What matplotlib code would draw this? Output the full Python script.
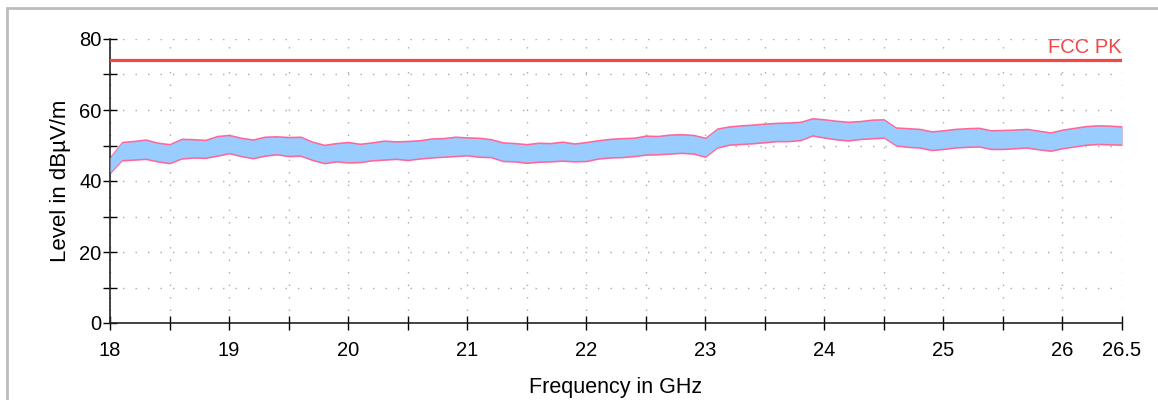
import matplotlib
matplotlib.use("Agg")
import matplotlib.pyplot as plt
from matplotlib.patches import Rectangle

plt.rcParams['font.family'] = ['Liberation Sans', 'DejaVu Sans']

# ── data ──
freq_ghz = [18.0, 18.1, 18.2, 18.3, 18.4, 18.5, 18.6, 18.7, 18.8, 18.9,
            19.0, 19.1, 19.2, 19.3, 19.4, 19.5, 19.6, 19.7, 19.8, 19.9,
            20.0, 20.1, 20.2, 20.3, 20.4, 20.5, 20.6, 20.7, 20.8, 20.9,
            21.0, 21.1, 21.2, 21.3, 21.4, 21.5, 21.6, 21.7, 21.8, 21.9,
            22.0, 22.1, 22.2, 22.3, 22.4, 22.5, 22.6, 22.7, 22.8, 22.9,
            23.0, 23.1, 23.2, 23.3, 23.4, 23.5, 23.6, 23.7, 23.8, 23.9,
            24.0, 24.1, 24.2, 24.3, 24.4, 24.5, 24.6, 24.7, 24.8, 24.9,
            25.0, 25.1, 25.2, 25.3, 25.4, 25.5, 25.6, 25.7, 25.8, 25.9,
            26.0, 26.1, 26.2, 26.3, 26.4, 26.5]
level_hi = [47.0, 51.2, 51.5, 51.9, 51.0, 50.6, 52.1, 52.0, 51.8, 52.9,
            53.2, 52.4, 51.9, 52.7, 52.8, 52.6, 52.7, 51.3, 50.4, 50.9,
            51.2, 50.7, 51.1, 51.6, 51.4, 51.5, 51.7, 52.2, 52.3, 52.7,
            52.5, 52.4, 52.0, 51.1, 50.9, 50.6, 51.0, 50.9, 51.3, 50.8,
            51.2, 51.7, 52.1, 52.3, 52.4, 53.0, 52.9, 53.3, 53.4, 53.2,
            52.4, 55.0, 55.6, 55.9, 56.1, 56.4, 56.6, 56.7, 56.9, 57.9,
            57.6, 57.2, 56.9, 57.1, 57.5, 57.6, 55.3, 55.1, 54.9, 54.2,
            54.5, 54.9, 55.1, 55.2, 54.5, 54.6, 54.7, 54.9, 54.4, 53.9,
            54.7, 55.2, 55.7, 55.9, 55.8, 55.6]
level_lo = [42.0, 45.6, 45.8, 46.0, 45.3, 44.8, 46.1, 46.4, 46.3, 46.9,
            47.6, 46.8, 46.2, 46.9, 47.3, 46.8, 46.9, 45.7, 44.8, 45.3,
            45.0, 45.1, 45.6, 45.8, 46.0, 45.7, 46.1, 46.4, 46.6, 46.8,
            47.0, 46.6, 46.5, 45.4, 45.3, 44.9, 45.2, 45.3, 45.5, 45.3,
            45.4, 46.1, 46.4, 46.5, 46.8, 47.2, 47.3, 47.5, 47.7, 47.5,
            46.6, 49.2, 50.0, 50.2, 50.4, 50.7, 51.0, 51.0, 51.3, 52.6,
            52.0, 51.5, 51.2, 51.6, 51.8, 52.0, 49.8, 49.4, 49.2, 48.5,
            48.8, 49.2, 49.4, 49.5, 48.8, 48.8, 49.0, 49.2, 48.7, 48.3,
            49.0, 49.5, 50.0, 50.2, 50.1, 50.0]
limit_name = "FCC PK"
limit_level = 74.0

x_ticks = [18, 18.5, 19, 19.5, 20, 20.5, 21, 21.5, 22, 22.5, 23, 23.5,
           24, 24.5, 25, 25.5, 26, 26.5]
x_ticklabels = ['18', '', '19', '', '20', '', '21', '', '22', '', '23', '',
                '24', '', '25', '', '26', '26.5']
y_ticks = [0, 10, 20, 30, 40, 50, 60, 70, 80]
y_ticklabels = ['0', '', '20', '', '40', '', '60', '', '80']

fig = plt.figure(figsize=(11.58, 4.0), dpi=100)
# outer gray frame
fig.patches.append(Rectangle((7 / 1158, -0.05), 1.1, 1.05 - 8 / 400,
                             transform=fig.transFigure, fill=False,
                             edgecolor='#bdbdbd', linewidth=2.0))
ax = fig.add_axes([110 / 1158, 77 / 400, 1012 / 1158, 284 / 400])

# pink trace behind, light blue on top
ax.fill_between(freq_ghz, level_lo, level_hi, color='#ff6699', linewidth=0, zorder=2)
blue_hi = [v - 0.45 for v in level_hi]
blue_lo = [v + 0.45 for v in level_lo]
ax.fill_between(freq_ghz, blue_lo, blue_hi, color='#99ccff', linewidth=0, zorder=3)

ax.axhline(limit_level, color='#f04848', linewidth=2.3, zorder=4)
ax.text(26.5, limit_level + 1.0, limit_name, color='#f04848', fontsize=14.5,
        ha='right', va='bottom')

ax.set_xlim(18, 26.5)
ax.set_ylim(0, 80)
ax.set_xticks(x_ticks)
ax.set_xticklabels(x_ticklabels)
ax.set_yticks(y_ticks)
ax.set_yticklabels(y_ticklabels)
ax.tick_params(direction='inout', length=10, width=1, labelsize=14.5, pad=1)
ax.tick_params(axis='x', pad=8)
ax.grid(True, color='#aaaaaa', linestyle=(0, (1, 8)), linewidth=1.0, zorder=0)
for side in ('top', 'right'):
    ax.spines[side].set_visible(False)
for side in ('left', 'bottom'):
    ax.spines[side].set_linewidth(1.2)
    ax.spines[side].set_color('#222222')

ax.set_xlabel('Frequency in GHz', fontsize=15.5, labelpad=12)
ax.set_ylabel('Level in dBµV/m', fontsize=16, labelpad=6)

fig.savefig('out.png', dpi=100)
